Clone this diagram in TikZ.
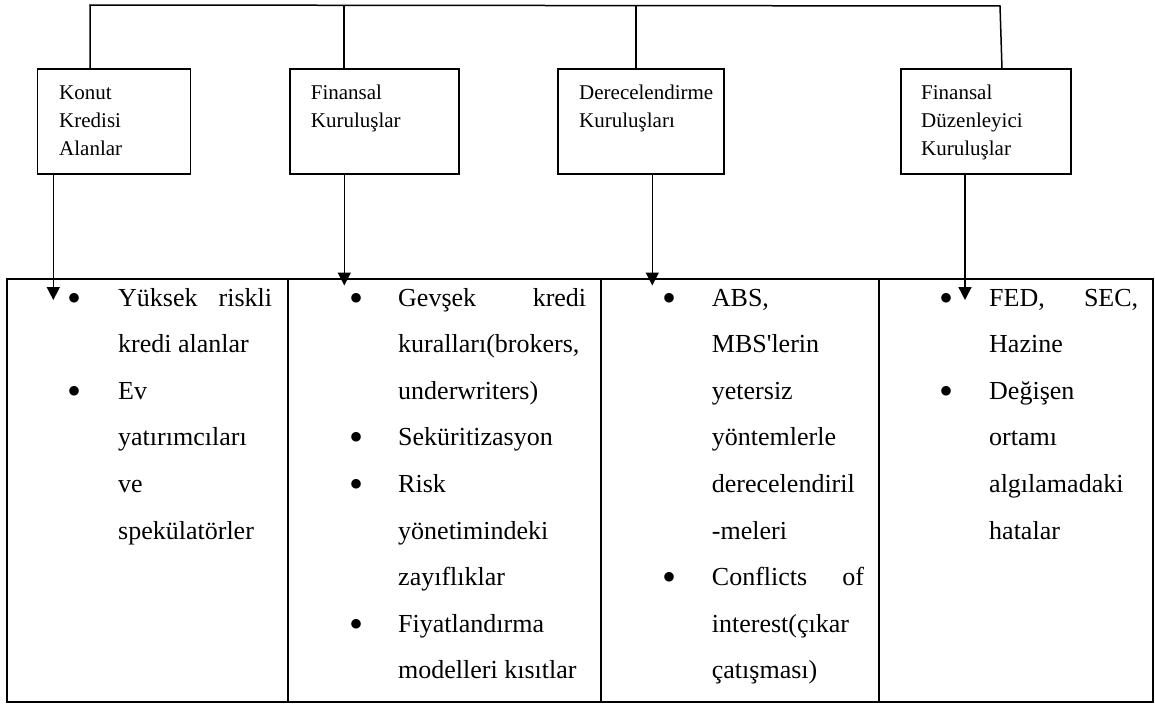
\documentclass[tikz,border=0pt]{standalone}
\usepackage{fontspec}
\setmainfont{Liberation Serif}[Ligatures=TeXOff]
\usetikzlibrary{arrows.meta}
\begin{document}
\begin{tikzpicture}[x=1pt,y=-1pt,
  boxst/.style={draw, line width=1.5pt, rectangle, inner sep=0pt, minimum height=105pt},
  boxtxt/.style={anchor=base west, inner sep=0pt, font=\fontsize{21}{28}\selectfont},
  coltxt/.style={anchor=base west, inner sep=0pt, font=\fontsize{26}{46.6}\selectfont},
  bul/.style={anchor=base, inner sep=0pt, yshift=-5pt, font=\fontsize{40}{40}\selectfont},
  conn/.style={line width=1.5pt},
  arr/.style={line width=1.5pt, -{Triangle[width=13pt,length=13pt]}},
  tblline/.style={line width=1.8pt}]
\useasboundingbox (0,0) rectangle (1155,704);
% boxes
\node[boxst, minimum width=152.6pt] (b1) at (114,121.5) {};
\node[boxst, minimum width=169pt] (b2) at (374.5,121.5) {};
\node[boxst, minimum width=166.3pt] (b3) at (640.9,121.5) {};
\node[boxst, minimum width=169.7pt] (b4) at (985.9,121.5) {};
\node[boxtxt] (t1) at (59,99) {\vtop{\baselineskip=28pt\hbox{Konut}\hbox{Kredisi}\hbox{Alanlar}}};
\node[boxtxt] (t2) at (310.7,99.5) {\vtop{\baselineskip=28pt\hbox{Finansal}\hbox{Kuruluşlar}}};
\node[boxtxt] (t3) at (579,99.5) {\vtop{\baselineskip=28pt\hbox{Derecelendirme}\hbox{Kuruluşları}}};
\node[boxtxt] (t4) at (921,99.5) {\vtop{\baselineskip=28pt\hbox{Finansal}\hbox{Düzenleyici}\hbox{Kuruluşlar}}};
% top bus
\coordinate (p1) at (90,5);
\coordinate (p2) at (344,5);
\coordinate (p3) at (636,5.5);
\coordinate (p4) at (1000,6);
\coordinate (q4) at (1002,69);
\draw[conn] (b1.north -| p1) -- (p1) -- (p4) -- (q4);
\draw[conn] (p2) -- (b2.north -| p2);
\draw[conn] (p3) -- (b3.north -| p3);
% table
\node[draw, tblline, rectangle, inner sep=0pt, minimum width=1146.3pt, minimum height=423pt] (tbl) at (579.85,490.5) {};
\coordinate (d1) at (288.3,0);
\coordinate (d2) at (601,0);
\coordinate (d3) at (879.3,0);
\draw[tblline] (tbl.north -| d1) -- (tbl.south -| d1);
\draw[tblline] (tbl.north -| d2) -- (tbl.south -| d2);
\draw[tblline] (tbl.north -| d3) -- (tbl.south -| d3);
% arrows
\coordinate (a1) at (53.3,300);
\coordinate (a2) at (344.3,285.5);
\coordinate (a3) at (652.3,285.5);
\coordinate (a4) at (965,300);
\draw[arr] (b1.south -| a1) -- (a1);
\draw[arr] (b2.south -| a2) -- (a2);
\draw[arr] (b3.south -| a3) -- (a3);
\draw[arr] (b4.south -| a4) -- (a4);
% column 1
\node[bul] (u11) at (75,306) {•};
\node[bul] (u12) at (75,399.2) {•};
\node[coltxt] (c1) at (118,306) {\vtop{\baselineskip=46.6pt
  \hbox to 154pt{Yüksek\hfill riskli}\hbox{kredi alanlar}\hbox{Ev}\hbox{yatırımcıları}\hbox{ve}\hbox{spekülatörler}}};
% column 2
\node[bul] (u21) at (356,306) {•};
\node[bul] (u22) at (356,445.8) {•};
\node[bul] (u23) at (356,492.4) {•};
\node[bul] (u24) at (356,632.2) {•};
\node[coltxt] (c2) at (398,306) {\vtop{\baselineskip=46.6pt
  \hbox to 188pt{Gevşek\hfill kredi}\hbox{kuralları(brokers,}\hbox{underwriters)}\hbox{Seküritizasyon}\hbox{Risk}\hbox{yönetimindeki}\hbox{zayıflıklar}\hbox{Fiyatlandırma}\hbox{modelleri kısıtlar}}};
% column 3
\node[bul] (u31) at (669.3,306) {•};
\node[bul] (u32) at (669.3,585.6) {•};
\node[coltxt] (c3) at (711.7,306) {\vtop{\baselineskip=46.6pt
  \hbox{ABS,}\hbox{MBS'lerin}\hbox{yetersiz}\hbox{yöntemlerle}\hbox{derecelendiril}\hbox{-meleri}\hbox to 152pt{Conflicts\hfill of}\hbox{interest(çıkar}\hbox{çatışması)}}};
% column 4
\node[bul] (u41) at (946.7,306) {•};
\node[bul] (u42) at (946.7,399.2) {•};
\node[coltxt] (c4) at (989,306) {\vtop{\baselineskip=46.6pt
  \hbox to 149pt{FED,\hfill SEC,}\hbox{Hazine}\hbox{Değişen}\hbox{ortamı}\hbox{algılamadaki}\hbox{hatalar}}};
\end{tikzpicture}
\end{document}
